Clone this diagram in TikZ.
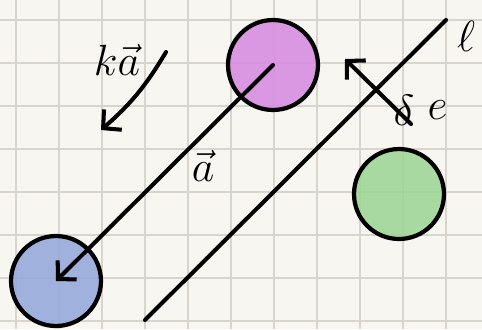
\documentclass[tikz,border=0pt]{standalone}
\usetikzlibrary{arrows.meta, positioning}
\definecolor{PaperBg}{HTML}{F8F6F1}
\definecolor{GridGrey}{HTML}{D9D4CD}
\definecolor{BallPurple}{HTML}{D88BE0}
\definecolor{BallGreen}{HTML}{9CD695}
\definecolor{BallBlue}{HTML}{93A8DA}

\begin{document}
\begin{tikzpicture}[x=0.02cm, y=-0.02cm, >={Straight Barb[length=2.6mm, width=5.4mm]},
        ball/.style={circle, draw=black, line width=2.4pt, minimum size=1.8cm, inner sep=0pt, fill opacity=0.88, draw opacity=1},
        pen/.style={line width=2.3pt, line cap=round},
        grid/.style={GridGrey, line width=1.1pt},
        hand/.style={font=\Huge, inner sep=0pt}]

        \fill[PaperBg] (0,0) rectangle (482,329);
        \useasboundingbox (0,0) rectangle (482,329);
        \foreach \gx in {16,59,...,446} \draw[grid] (\gx,0) -- (\gx,329);
        \foreach \gy in {20,63,...,321} \draw[grid] (0,\gy) -- (482,\gy);

        \node[ball, fill=BallPurple] (purple) at (273,65) {};
        \node[ball, fill=BallGreen] (green) at (399,194) {};
        \node[ball, fill=BallBlue] (blue) at (56,281) {};

        \coordinate (lbot) at (145,320);
        \coordinate (ltop) at (446,20);
        \coordinate (dtail) at (411,124);
        \coordinate (dhead) at (345,59);
        \coordinate (ktail) at (166,52);
        \coordinate (khead) at (101,130);

        \draw[pen, ->] (purple.center) -- (blue.center);
        \draw[pen] (lbot) -- (ltop);
        \draw[pen, ->] (dtail) -- (dhead);
        \draw[pen, ->] (ktail) to[bend left=9] (khead);

        \node[hand] (ell) at (466,36) {$\ell$};
        \node[hand] (vala) at (203,166) {$\vec{a}$};
        \node[hand] (kvala) at (117,60) {$k\vec{a}$};
        \node[hand] (delta) at (404,110) {$\delta$};
        \node[hand, right=0.25cm of delta] (evec) {$e$};
    \end{tikzpicture}
\end{document}
